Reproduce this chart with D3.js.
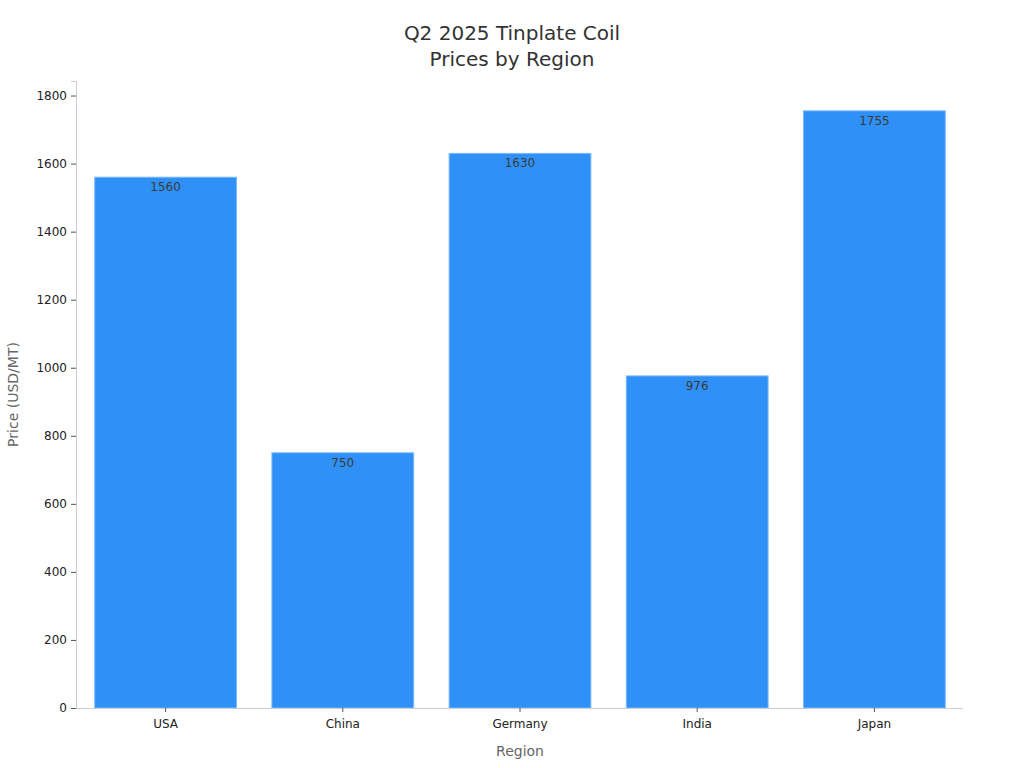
<!DOCTYPE html>
<html>
<head>
<meta charset="utf-8">
<script src="https://cdn.jsdelivr.net/npm/d3@7"></script>
<style>
  body { margin: 0; background: #fff; }
  svg { font-family: "DejaVu Sans", sans-serif; }
</style>
</head>
<body>
<svg id="chart" width="1024" height="768"></svg>
<script>
const regions = ["USA", "China", "Germany", "India", "Japan"];
const prices = [1560, 750, 1630, 976, 1755];
const yTicks = [0, 200, 400, 600, 800, 1000, 1200, 1400, 1600, 1800];

const margin = { top: 81, right: 61, bottom: 60, left: 77 };
const width = 1024, height = 768;
const svg = d3.select('#chart');

const x = d3.scaleBand()
  .domain(regions)
  .range([margin.left, width - margin.right])
  .paddingInner(0.2)
  .paddingOuter(0.1);

const y = d3.scaleLinear()
  .domain([0, d3.max(prices) * 1.05])
  .range([height - margin.bottom, margin.top]);

// title
svg.append('text')
  .attr('x', width / 2).attr('y', 40)
  .attr('text-anchor', 'middle')
  .attr('font-size', 20).attr('fill', '#333')
  .selectAll('tspan')
  .data(["Q2 2025 Tinplate Coil", "Prices by Region"])
  .join('tspan')
  .attr('x', width / 2)
  .attr('dy', (d, i) => i ? 26 : 0)
  .text(d => d);

// bars
svg.append('g').selectAll('rect')
  .data(prices)
  .join('rect')
  .attr('x', (d, i) => x(regions[i]))
  .attr('y', d => y(d))
  .attr('width', x.bandwidth())
  .attr('height', d => y(0) - y(d))
  .attr('fill', '#2f91f8')
  .attr('stroke', '#7ab8fb')
  .attr('stroke-width', 1);

// value labels
svg.append('g').selectAll('text')
  .data(prices)
  .join('text')
  .attr('x', (d, i) => x(regions[i]) + x.bandwidth() / 2)
  .attr('y', d => y(d) + 14)
  .attr('text-anchor', 'middle')
  .attr('font-size', 12).attr('fill', '#3a3a3a')
  .text(d => d);

// y axis
const yAxis = svg.append('g')
  .attr('transform', `translate(${margin.left - 1},0)`)
  .call(d3.axisLeft(y).tickValues(yTicks).tickFormat(d3.format('d')).tickSize(5).tickPadding(4));
yAxis.select('.domain').attr('stroke', '#ccc');
yAxis.selectAll('.tick line').attr('stroke', '#555');
yAxis.selectAll('.tick text').attr('font-size', 12).attr('fill', '#222')
  .attr('font-family', '"DejaVu Sans", sans-serif');

// x axis
const xAxis = svg.append('g')
  .attr('transform', `translate(0,${height - margin.bottom})`)
  .call(d3.axisBottom(x).tickSize(4).tickPadding(7).tickSizeOuter(0));
xAxis.select('.domain').attr('stroke', '#ccc').attr('d', `M${margin.left - 1},0.5H${width - margin.right}`);
xAxis.selectAll('.tick line').attr('stroke', '#555');
xAxis.selectAll('.tick text').attr('font-size', 12).attr('fill', '#222')
  .attr('font-family', '"DejaVu Sans", sans-serif');

// axis titles
svg.append('text')
  .attr('x', (margin.left + width - margin.right) / 2).attr('y', 756)
  .attr('text-anchor', 'middle')
  .attr('font-size', 14).attr('fill', '#666')
  .text('Region');

svg.append('text')
  .attr('transform', `translate(18,${(margin.top + height - margin.bottom) / 2}) rotate(-90)`)
  .attr('text-anchor', 'middle')
  .attr('font-size', 14).attr('fill', '#666')
  .text('Price (USD/MT)');
</script>
</body>
</html>
